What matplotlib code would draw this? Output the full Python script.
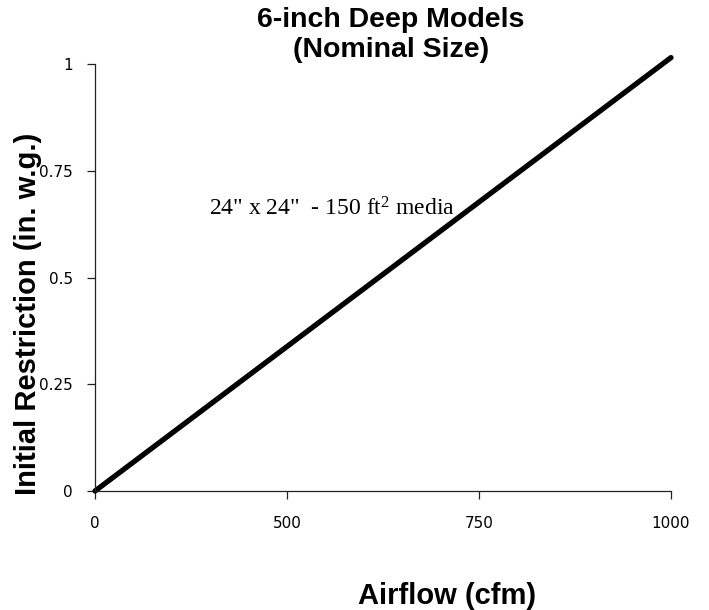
import matplotlib
matplotlib.use("Agg")
import matplotlib.pyplot as plt
import numpy as np

plt.rcParams["mathtext.fontset"] = "custom"
plt.rcParams["mathtext.rm"] = "Liberation Serif"
plt.rcParams["mathtext.it"] = "Liberation Serif:italic"

# Data
airflow = [0, 1000]
restriction = [0, 1.015]
x_tick_labels = ["0", "500", "750", "1000"]
y_ticks = [0, 0.25, 0.5, 0.75, 1]
y_tick_labels = ["0", "0.25", "0.5", "0.75", "1"]

fig = plt.figure(figsize=(7.09, 6.10), dpi=100)
ax = fig.add_axes([95/709, 1-491/610, (671-95)/709, (491-64)/610])

ax.plot(airflow, restriction, color="black", linewidth=3.8, solid_capstyle="round", clip_on=False)

ax.set_xlim(0, 1000)
ax.set_ylim(0, 1)
ax.set_xticks(np.linspace(0, 1000, len(x_tick_labels)))
ax.set_xticklabels(x_tick_labels)
ax.set_yticks(y_ticks)
ax.set_yticklabels(y_tick_labels)

for s in ["top", "right"]:
    ax.spines[s].set_visible(False)
for s in ["left", "bottom"]:
    ax.spines[s].set_linewidth(0.9)
    ax.spines[s].set_color("#222222")

ax.tick_params(axis="x", direction="out", length=6, width=0.9, pad=12, color="#222222")
ax.tick_params(axis="y", direction="out", length=6, width=0.9, pad=10, color="#222222")
for lab in ax.get_xticklabels() + ax.get_yticklabels():
    lab.set_fontfamily("DejaVu Sans")
    lab.set_fontsize(11)

fig.text(391/709, 1-7/610, "6-inch Deep Models\n(Nominal Size)", ha="center", va="top",
         fontfamily="Liberation Sans", fontweight="bold", fontsize=20.5, linespacing=1.22)
fig.text(447/709, 1-596/610, "Airflow (cfm)", ha="center", va="center",
         fontfamily="Liberation Sans", fontweight="bold", fontsize=21)
fig.text(28/709, 1-314/610, "Initial Restriction (in. w.g.)", ha="center", va="center",
         rotation=90, fontfamily="Liberation Sans", fontweight="bold", fontsize=21)

ax.text((209-95)/576, (491-209)/427, "24\" x 24\"  - 150 ft$^{2}$ media", transform=ax.transAxes,
        ha="left", va="center", fontfamily="Liberation Serif", fontsize=17)

fig.savefig("out.png", dpi=100)
